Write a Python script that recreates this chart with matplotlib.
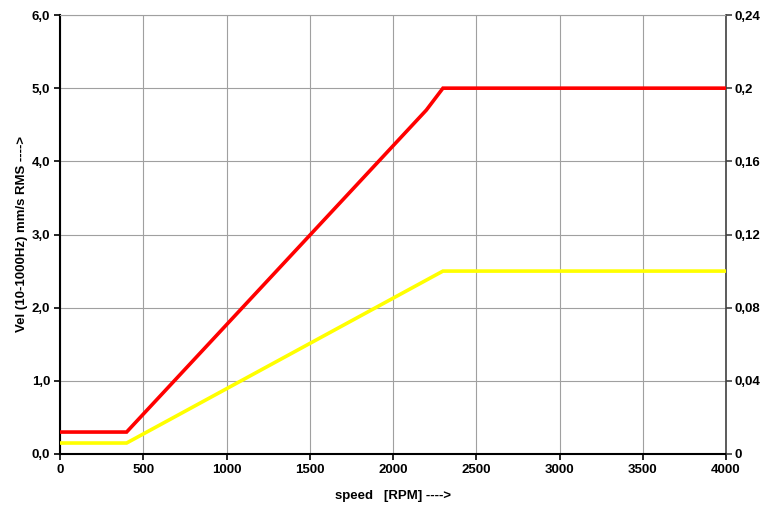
import matplotlib.pyplot as plt
from matplotlib.ticker import FuncFormatter

plt.rcParams['font.family'] = ['Liberation Sans', 'DejaVu Sans']
plt.rcParams['font.weight'] = 'bold'

speed_red = [0, 400, 2200, 2300, 4000]
vel_red = [0.3, 0.3, 4.7, 5.0, 5.0]
speed_yellow = [0, 400, 2300, 4000]
vel_yellow = [0.15, 0.15, 2.5, 2.5]
left_ticks = [0, 1, 2, 3, 4, 5, 6]
right_labels = ['0', '0,04', '0,08', '0,12', '0,16', '0,2', '0,24']
x_ticks = [0, 500, 1000, 1500, 2000, 2500, 3000, 3500, 4000]

fig = plt.figure(figsize=(7.63, 5.09), dpi=100)
ax = fig.add_axes([60/763, 55/509, 666/763, 439/509])

ax.plot(speed_yellow, vel_yellow, color='#ffff00', lw=2.6, solid_joinstyle='miter', zorder=3)
ax.plot(speed_red, vel_red, color='#ff0000', lw=2.6, solid_joinstyle='miter', zorder=4)

ax.set_xlim(0, 4000)
ax.set_ylim(0, 6)
ax.set_xticks(x_ticks)
ax.set_yticks(left_ticks)
ax.yaxis.set_major_formatter(FuncFormatter(lambda v, p: f'{v:.1f}'.replace('.', ',')))
ax.grid(True, color='#a0a0a0', lw=0.8)
ax.tick_params(direction='out', length=4, width=1.2, labelsize=9.5, pad=3)
for s in ['left', 'bottom']:
    ax.spines[s].set_linewidth(1.5)
    ax.spines[s].set_color('black')
ax.spines['top'].set_color('#a0a0a0')
ax.spines['top'].set_linewidth(0.8)
ax.spines['right'].set_color('#404040')
ax.spines['right'].set_linewidth(1.2)

ax2 = ax.twinx()
ax2.set_ylim(0, 0.24)
ax2.set_yticks([0, 0.04, 0.08, 0.12, 0.16, 0.2, 0.24])
ax2.set_yticklabels(right_labels)
ax2.tick_params(direction='out', length=4, width=1.2, labelsize=9.5, color='#404040', pad=2)
for s in ax2.spines.values():
    s.set_visible(False)

ax.set_xlabel('speed   [RPM] ---->', fontsize=9.5, fontweight='bold', labelpad=10)
ax.set_ylabel('Vel (10-1000Hz) mm/s RMS ---->', fontsize=9.5, fontweight='bold', labelpad=3)

fig.savefig('out.png', dpi=100)
